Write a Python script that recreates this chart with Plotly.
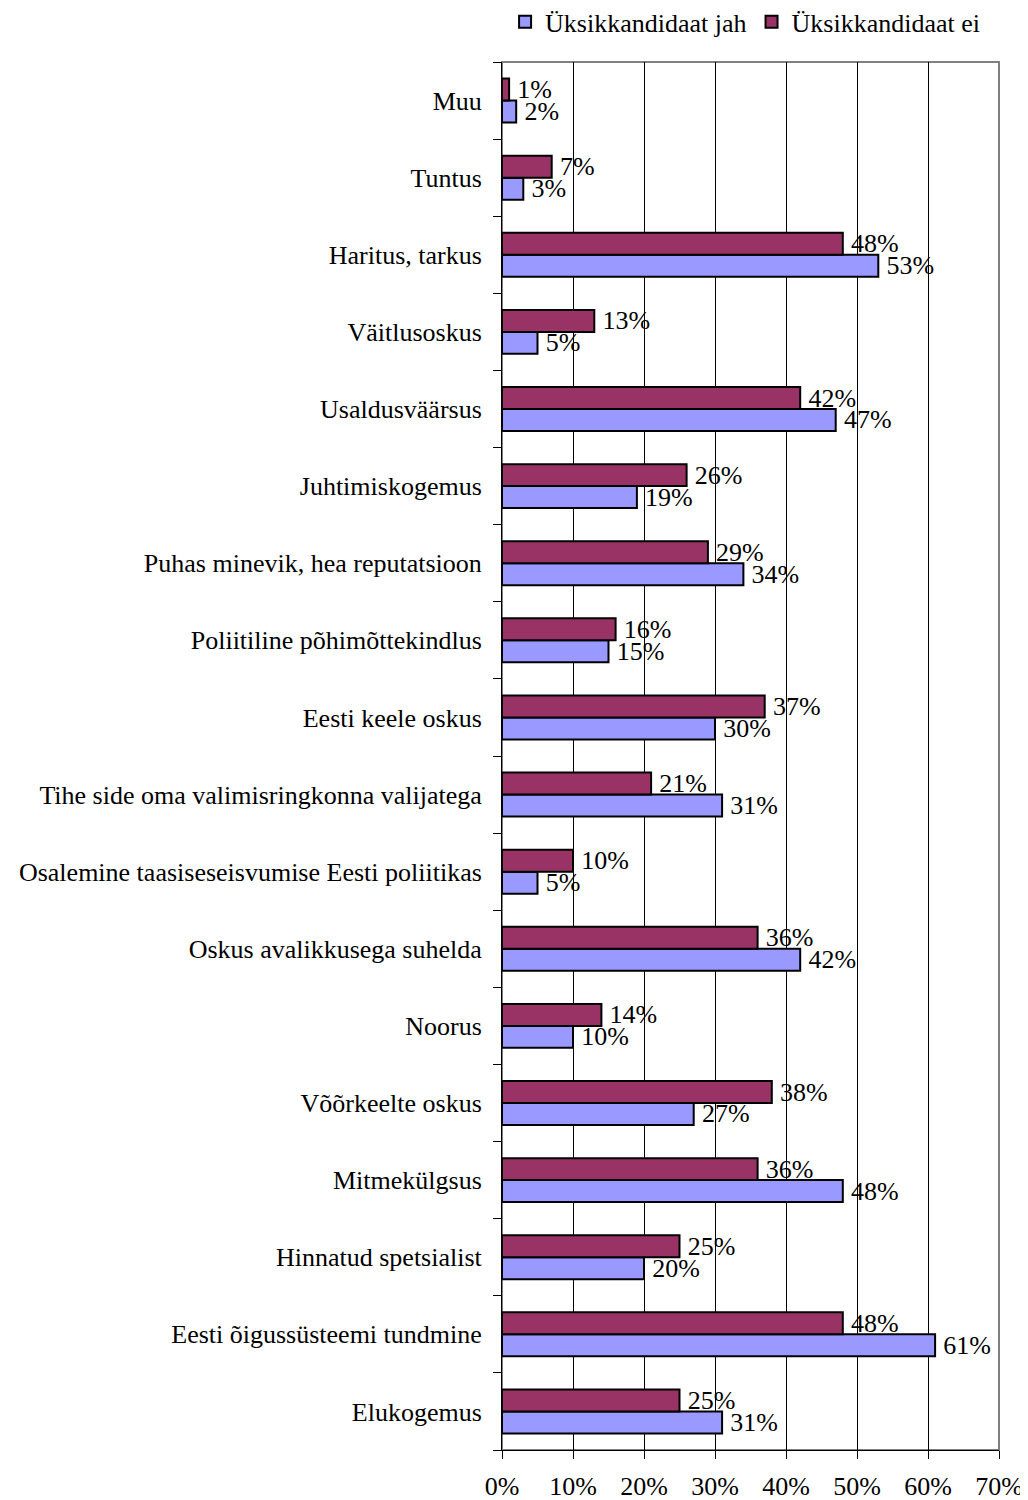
import plotly.graph_objects as go

categories = [
    "Muu", "Tuntus", "Haritus, tarkus", "Väitlusoskus", "Usaldusväärsus",
    "Juhtimiskogemus", "Puhas minevik, hea reputatsioon",
    "Poliitiline põhimõttekindlus", "Eesti keele oskus",
    "Tihe side oma valimisringkonna valijatega",
    "Osalemine taasiseseisvumise Eesti poliitikas",
    "Oskus avalikkusega suhelda", "Noorus", "Võõrkeelte oskus",
    "Mitmekülgsus", "Hinnatud spetsialist", "Eesti õigussüsteemi tundmine",
    "Elukogemus",
]
jah = [2, 3, 53, 5, 47, 19, 34, 15, 30, 31, 5, 42, 10, 27, 48, 20, 61, 31]
ei = [1, 7, 48, 13, 42, 26, 29, 16, 37, 21, 10, 36, 14, 38, 36, 25, 48, 25]
series_names = ["Üksikkandidaat jah", "Üksikkandidaat ei"]
x_ticks = [0, 10, 20, 30, 40, 50, 60, 70]

FONT = "Liberation Serif"
FS = 26

fig = go.Figure()
fig.add_trace(go.Bar(
    y=categories, x=jah, orientation="h", name=series_names[0],
    marker=dict(color="#9999FF", line=dict(color="black", width=2)),
    text=[f"\u2009{v}%" for v in jah], textposition="outside",
    textfont=dict(family=FONT, size=FS, color="black"),
    constraintext="none", cliponaxis=False,
))
fig.add_trace(go.Bar(
    y=categories, x=ei, orientation="h", name=series_names[1],
    marker=dict(color="#993366", line=dict(color="black", width=2)),
    text=[f"\u2009{v}%" for v in ei], textposition="outside",
    textfont=dict(family=FONT, size=FS, color="black"),
    constraintext="none", cliponaxis=False,
))

fig.update_layout(
    width=1020, height=1492,
    margin=dict(l=494, r=29, t=54, b=50, autoexpand=False),
    paper_bgcolor="white", plot_bgcolor="white",
    barmode="group", bargap=0.43, bargroupgap=0,
    font=dict(family=FONT, size=FS, color="black"),
    legend=dict(
        orientation="h", x=0.972, xanchor="right",
        y=1.029, yanchor="middle", yref="paper",
        traceorder="normal",
        font=dict(family=FONT, size=FS, color="black"),
        itemwidth=30, tracegroupgap=0,
    ),
    xaxis=dict(
        range=[0, 70], tickvals=x_ticks,
        ticktext=[f"{v}%" for v in x_ticks],
        showgrid=True, gridcolor="black", gridwidth=1,
        showline=True, linecolor="black", linewidth=1,
        ticks="outside", ticklen=8, tickcolor="black",
        ticklabelstandoff=5, zeroline=False, automargin=False,
        tickfont=dict(family=FONT, size=FS, color="black"),
    ),
    yaxis=dict(
        categoryorder="array", categoryarray=list(reversed(categories)),
        showline=True, linecolor="black", linewidth=1,
        ticks="outside", ticklen=8, tickcolor="black",
        tickson="boundaries", showgrid=False, automargin=False,
        ticklabelstandoff=14,
        tickfont=dict(family=FONT, size=FS, color="black"),
    ),
    shapes=[dict(
        type="rect", xref="paper", yref="paper", x0=0, x1=1, y0=0, y1=1,
        line=dict(color="#808080", width=2), layer="below",
    )],
)

fig.write_html("out.html")
